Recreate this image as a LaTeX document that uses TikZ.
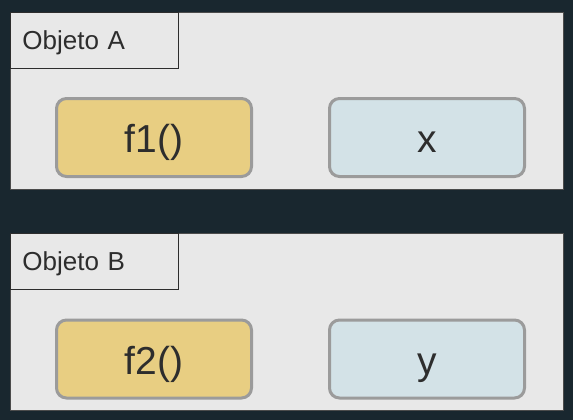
\documentclass[tikz,border=0pt]{standalone}
\usepackage{fontspec}
\setmainfont{Liberation Sans}
\definecolor{bg_dark}{RGB}{25,39,47}
\definecolor{panel_gray}{RGB}{232,232,232}
\definecolor{func_yellow}{RGB}{232,206,130}
\definecolor{var_blue}{RGB}{211,226,231}
\definecolor{edge_gray}{RGB}{155,155,155}
\definecolor{text_dark}{RGB}{45,45,45}

\begin{document}
\begin{tikzpicture}[x=1pt,y=-1pt]
    \tikzstyle{panel}=[fill=panel_gray, draw=black!70, line width=0.6pt, minimum width=553pt, minimum height=177pt, inner sep=0pt]
    \tikzstyle{tag}=[fill=panel_gray, draw=text_dark, line width=0.8pt, anchor=north west, text width=144pt, align=left, minimum height=56pt, inner xsep=12pt, text height=19pt, text depth=0pt, text=text_dark, font=\fontsize{26}{30}\selectfont]
    \tikzstyle{member}=[draw=edge_gray, line width=3pt, rounded corners=10pt, minimum width=195pt, minimum height=78pt, text height=30pt, text depth=0pt, text=text_dark, font=\fontsize{39}{44}\selectfont]

    \fill[bg_dark] (0,0) rectangle (573,420);
    \useasboundingbox (0,0) rectangle (573,420);

    \node[panel] (pa) at (286.5,101)   {};
    \node[tag]   (ta) at (10,12)       {Objeto A};
    \node[member, fill=func_yellow] (f1) at (154,137.5) {f1()};
    \node[member, fill=var_blue]    (x)  at (427,137.5) {x};

    \node[panel] (pb) at (286.5,321.5) {};
    \node[tag]   (tb) at (10,233)      {Objeto B};
    \node[member, fill=func_yellow] (f2) at (154,359)   {f2()};
    \node[member, fill=var_blue]    (y)  at (427,359)   {y};
  \end{tikzpicture}
\end{document}
